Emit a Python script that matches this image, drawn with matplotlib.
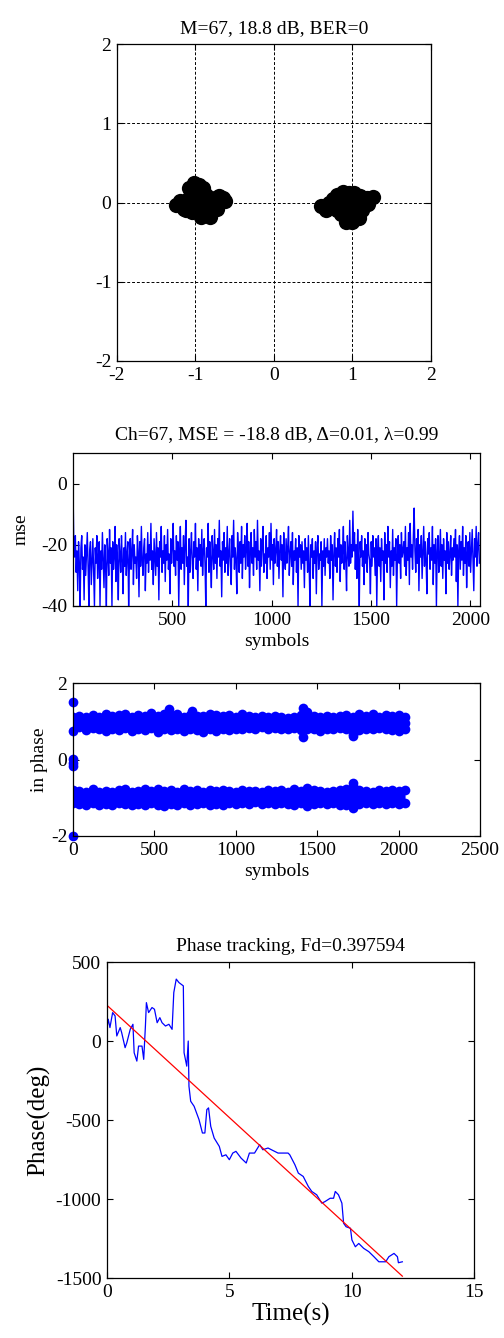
import numpy as np
import matplotlib
matplotlib.use("Agg")
import matplotlib.pyplot as plt

plt.rcParams['font.family'] = ['Liberation Serif', 'DejaVu Serif']
plt.rcParams['axes.unicode_minus'] = False

# ---------------- data ----------------
# constellation (I, Q) cluster points
const_i = [-1.25, -1.2, -1.15, -1.1, -1.08, -1.02, -0.95, -0.9, -0.98, -1.0, -0.95, -0.88,
           -0.82, -0.85, -0.9, -0.8, -0.75, -0.7, -0.65, -0.62, -0.72, -0.78, -1.12, -1.05,
           -0.93, -1.05, -0.92, -0.86,
           0.6, 0.66, 0.7, 0.75, 0.8, 0.88, 0.95, 1.02, 1.1, 1.18, 1.26, 1.2, 1.12, 1.08,
           1.0, 0.95, 0.85, 0.8, 0.9, 1.0, 1.05, 0.95, 1.15, 0.75, 1.0, 0.92]
const_q = [-0.03, 0.02, -0.08, 0.05, 0.18, 0.24, 0.22, 0.18, 0.1, -0.05, -0.12, -0.16,
           -0.18, -0.05, 0.05, 0.02, 0.06, 0.08, 0.06, 0.02, -0.08, -0.1, -0.1, -0.12,
           -0.18, 0.12, 0.0, 0.1,
           -0.04, -0.1, 0.0, 0.05, 0.1, 0.13, 0.12, 0.12, 0.08, 0.06, 0.07, -0.02, -0.1, -0.2,
           -0.24, -0.2, -0.15, -0.1, 0.0, 0.0, -0.08, -0.08, 0.0, -0.06, 0.1, -0.25]

# MSE (dB), one value every 4 symbols
mse_db = [
    0, -20, -24, -17, -29, -22, -35, -19, -26, -40, -21, -17, -28, -24, -38, -20,
    -30, -23, -16, -27, -40, -22, -19, -33, -25, -18, -29, -40, -21, -26, -17, -31,
    -24, -19, -40, -22, -28, -16, -25, -34, -20, -27, -40, -18, -23, -30, -15, -26,
    -21, -40, -19, -28, -24, -14, -32, -20, -26, -38, -18, -23, -29, -17, -25, -36,
    -21, -27, -16, -30, -23, -19, -40, -25, -18, -28, -22, -15, -33, -20, -26, -24,
    -31, -17, -22, -37, -19, -27, -14, -25, -30, -21, -18, -35, -23, -26, -16, -29,
    -20, -25, -13, -28, -22, -33, -18, -24, -30, -16, -27, -21, -38, -19, -24, -14,
    -29, -22, -26, -17, -32, -20, -25, -15, -28, -23, -36, -18, -26, -21, -13, -27,
    -22, -30, -17, -25, -19, -40, -23, -14, -28, -21, -26, -17, -33, -20, -12, -27,
    -24, -40, -18, -29, -22, -16, -26, -31, -19, -24, -13, -28, -21, -35, -18, -25,
    -20, -27, -15, -30, -22, -18, -26, -40, -21, -24, -13, -29, -19, -25, -34, -17,
    -23, -28, -15, -26, -20, -31, -18, -24, -12, -27, -22, -37, -19, -25, -16, -29,
    -21, -26, -14, -30, -23, -18, -27, -33, -17, -24, -12, -28, -21, -25, -36, -16,
    -22, -29, -19, -26, -14, -31, -20, -24, -17, -28, -22, -13, -27, -19, -34, -23,
    -16, -26, -21, -30, -15, -24, -19, -28, -12, -25, -22, -35, -18, -27, -20, -14,
    -29, -23, -26, -17, -31, -21, -24, -16, -28, -13, -25, -20, -33, -18, -26, -22,
    -15, -27, -19, -31, -22, -17, -25, -20, -37, -16, -24, -28, -18, -26, -21, -14,
    -30, -23, -19, -27, -16, -33, -22, -25, -18, -29, -21, -40, -17, -24, -20, -28,
    -19, -26, -22, -34, -18, -25, -21, -29, -17, -27, -40, -20, -24, -18, -31, -22,
    -26, -19, -36, -21, -17, -28, -23, -25, -19, -40, -22, -27, -18, -30, -21, -24,
    -18, -26, -22, -31, -17, -25, -20, -38, -23, -16, -27, -21, -29, -18, -24, -15,
    -32, -20, -26, -22, -14, -28, -19, -25, -35, -17, -23, -27, -12, -26, -20, -24,
    -9, -22, -16, -28, -20, -31, -15, -25, -40, -19, -24, -17, -27, -22, -33, -18,
    -26, -20, -29, -16, -23, -25, -36, -19, -27, -17, -24, -21, -30, -18, -40, -22,
    -17, -27, -21, -32, -18, -25, -22, -38, -16, -26, -20, -29, -14, -24, -19, -34,
    -22, -27, -15, -30, -21, -25, -18, -40, -23, -17, -26, -20, -31, -16, -24, -22,
    -19, -27, -14, -30, -21, -25, -16, -33, -13, -24, -20, -28, -17, -8, -22, -29,
    -18, -26, -15, -35, -20, -24, -17, -31, -22, -14, -27, -19, -25, -36, -18, -23,
    -16, -28, -21, -25, -14, -33, -20, -26, -18, -40, -22, -17, -29, -24, -15, -27,
    -20, -31, -18, -25, -22, -36, -16, -26, -19, -28, -23, -17, -30, -21, -25, -18,
    -24, -15, -32, -20, -40, -22, -17, -28, -19, -25, -14, -30, -21, -26, -17, -34,
    -23, -19, -27, -16, -29, -22, -15, -25, -35, -18, -24, -14, -27, -20, -16, -26]
mse_sym = np.arange(1, 1 + 4 * len(mse_db), 4)

# in-phase band envelopes, every 40 symbols
band_sym = np.arange(0, 2041, 40)
upper_hi = [1.12, 1.14, 1.1, 1.16, 1.12, 1.18, 1.14, 1.16, 1.2, 1.12, 1.17, 1.15, 1.22, 1.13,
            1.18, 1.16, 1.2, 1.12, 1.17, 1.15, 1.13, 1.18, 1.16, 1.13, 1.17, 1.12, 1.18, 1.15,
            1.12, 1.13, 1.1, 1.13, 1.12, 1.09, 1.12, 1.17, 1.25, 1.13, 1.12, 1.15, 1.1, 1.13,
            1.16, 1.12, 1.18, 1.13, 1.2, 1.12, 1.16, 1.13, 1.17, 1.12]
upper_lo = [0.8, 0.84, 0.77, 0.82, 0.79, 0.75, 0.81, 0.77, 0.83, 0.75, 0.8, 0.78, 0.82, 0.73,
            0.81, 0.77, 0.79, 0.75, 0.8, 0.77, 0.73, 0.79, 0.75, 0.81, 0.77, 0.8, 0.79, 0.83,
            0.81, 0.85, 0.8, 0.83, 0.81, 0.79, 0.83, 0.77, 0.8, 0.81, 0.75, 0.81, 0.79, 0.83,
            0.8, 0.68, 0.77, 0.81, 0.79, 0.83, 0.8, 0.77, 0.75, 0.79]
lower_hi = [-0.8, -0.83, -0.86, -0.78, -0.84, -0.82, -0.86, -0.8, -0.78, -0.84, -0.82, -0.78,
            -0.83, -0.76, -0.82, -0.8, -0.84, -0.78, -0.82, -0.8, -0.84, -0.81, -0.83, -0.8,
            -0.82, -0.84, -0.8, -0.83, -0.82, -0.84, -0.81, -0.83, -0.8, -0.84, -0.78, -0.82,
            -0.74, -0.8, -0.82, -0.84, -0.82, -0.8, -0.78, -0.68, -0.8, -0.82, -0.84, -0.8,
            -0.83, -0.8, -0.82, -0.8]
lower_lo = [-1.14, -1.17, -1.2, -1.14, -1.18, -1.16, -1.2, -1.14, -1.17, -1.2, -1.16, -1.18,
            -1.14, -1.2, -1.22, -1.17, -1.18, -1.14, -1.2, -1.16, -1.14, -1.18, -1.16, -1.2,
            -1.14, -1.17, -1.14, -1.16, -1.12, -1.16, -1.14, -1.17, -1.14, -1.16, -1.18, -1.14,
            -1.22, -1.17, -1.14, -1.16, -1.14, -1.18, -1.2, -1.26, -1.17, -1.14, -1.16, -1.14,
            -1.16, -1.14, -1.17, -1.14]
band_mid_up = [0.96, 0.98, 0.94, 1.0, 0.95, 0.97, 0.99, 0.95, 1.01, 0.94, 0.98, 0.96, 1.0, 0.93,
               0.99, 0.96, 1.0, 0.94, 0.98, 0.96, 0.93, 0.98, 0.95, 0.97, 0.96, 0.95, 0.99, 0.98,
               0.96, 0.99, 0.95, 0.98, 0.96, 0.94, 0.97, 0.97, 1.02, 0.97, 0.94, 0.98, 0.95, 0.98,
               0.98, 0.9, 0.97, 0.97, 0.99, 0.97, 0.98, 0.95, 0.96, 0.96]
outlier_sym = [0, 0, 0, 0, 0, 0, 590, 730, 1410, 1410, 1720, 1720]
outlier_val = [1.5, 0.75, 0.02, -0.08, -0.18, -2.0, 1.32, 1.28, 1.35, 0.6, 0.62, -0.62]

# phase tracking
track_t = [0.0, 0.01, 0.05, 0.12, 0.23, 0.33, 0.40, 0.54, 0.60, 0.74, 0.81, 0.95, 1.06, 1.11,
           1.22, 1.29, 1.43, 1.50, 1.57, 1.61, 1.70, 1.84, 1.94, 2.05, 2.16, 2.25, 2.39, 2.53,
           2.66, 2.73, 2.83, 2.94, 3.12, 3.15, 3.26, 3.32, 3.35, 3.42, 3.56, 3.76, 3.90, 4.00,
           4.08, 4.15, 4.24, 4.38, 4.59, 4.70, 4.86, 5.00, 5.14, 5.27, 5.48, 5.69, 5.82, 6.03,
           6.24, 6.37, 6.58, 6.99, 7.40, 7.47, 7.68, 7.82, 8.02, 8.23, 8.37, 8.57, 8.78, 8.91,
           9.12, 9.26, 9.33, 9.46, 9.60, 9.67, 9.77, 9.95, 10.01, 10.15, 10.29, 10.49, 10.70,
           10.91, 11.11, 11.39, 11.52, 11.73, 11.87, 11.91, 12.07]
track_ph = [80, 95, 138, 85, 180, 159, 32, 85, 53, -42, -11, 74, 106, -74,
            -127, -32, -32, -116, 95, 243, 180, 212, 201, 116, 148, 116, 95, 106,
            74, 307, 392, 370, 349, -74, -159, 0, -286, -381, -413, -497, -582, -582,
            -434, -423, -540, -614, -667, -730, -720, -751, -709, -698, -741, -772, -709, -709,
            -656, -688, -677, -709, -709, -720, -783, -836, -857, -921, -952, -973, -1026, -1016,
            -995, -995, -952, -973, -1026, -1153, -1175, -1185, -1259, -1302, -1281, -1312, -1333,
            -1365, -1397, -1397, -1365, -1344, -1365, -1403, -1397]
fit_t = [0.0, 12.07]
fit_ph = [226, -1488]

# ---------------- figure ----------------
fig = plt.figure(figsize=(5.04, 13.38), dpi=100)
FS = 14
blue = '#0000ff'


def style(ax):
    ax.tick_params(direction='in', top=True, right=True, labelsize=FS, length=4, width=0.8,
                   pad=4)
    for s in ax.spines.values():
        s.set_linewidth(0.9)


# constellation
ax1 = fig.add_axes([0.2321, 0.7302, 0.623, 0.2369])
ax1.plot(const_i, const_q, 'o', color='black', markersize=11, markeredgewidth=0)
ax1.set_xlim(-2, 2)
ax1.set_ylim(-2, 2)
ax1.set_xticks([-2, -1, 0, 1, 2])
ax1.set_yticks([-2, -1, 0, 1, 2])
ax1.grid(True, linestyle=(0, (3, 2)), color='black', linewidth=0.7)
ax1.set_axisbelow(True)
style(ax1)
ax1.set_title('M=67, 18.8 dB, BER=0', fontsize=FS, pad=8)

# MSE
ax2 = fig.add_axes([0.1448, 0.5471, 0.8075, 0.1143])
ax2.plot(mse_sym, mse_db, color=blue, linewidth=1.0)
ax2.set_xlim(1, 2048)
ax2.set_ylim(-40, 10)
ax2.set_xticks([500, 1000, 1500, 2000])
ax2.set_yticks([-40, -20, 0])
style(ax2)
ax2.set_xlabel('symbols', fontsize=FS, labelpad=3)
ax2.set_ylabel('mse', fontsize=FS, labelpad=8)
ax2.set_title('Ch=67, MSE = -18.8 dB, Δ=0.01, λ=0.99', fontsize=FS, pad=10)

# in phase
ax3 = fig.add_axes([0.1448, 0.3752, 0.8075, 0.1143])
ax3.fill_between(band_sym, upper_lo, upper_hi, color=blue, linewidth=0)
ax3.fill_between(band_sym, lower_lo, lower_hi, color=blue, linewidth=0)
for env in (upper_hi, upper_lo, lower_hi, lower_lo, band_mid_up):
    ax3.plot(band_sym, env, 'o', color=blue, markersize=7, markeredgewidth=0)
ax3.plot(outlier_sym, outlier_val, 'o', color=blue, markersize=7, markeredgewidth=0,
         clip_on=False)
ax3.set_xlim(0, 2500)
ax3.set_ylim(-2, 2)
ax3.set_xticks([0, 500, 1000, 1500, 2000, 2500])
ax3.set_yticks([-2, 0, 2])
style(ax3)
ax3.set_xlabel('symbols', fontsize=FS, labelpad=3)
ax3.set_ylabel('in phase', fontsize=FS, labelpad=2)

# phase tracking
ax4 = fig.add_axes([0.2123, 0.0448, 0.7282, 0.2362])
ax4.plot(track_t, track_ph, color=blue, linewidth=0.9)
ax4.plot(fit_t, fit_ph, color='red', linewidth=0.9)
ax4.set_xlim(0, 15)
ax4.set_ylim(-1500, 500)
ax4.set_xticks([0, 5, 10, 15])
ax4.set_yticks([-1500, -1000, -500, 0, 500])
style(ax4)
ax4.set_title('Phase tracking, Fd=0.397594', fontsize=FS, pad=8)
ax4.set_xlabel('Time(s)', fontsize=18, labelpad=2)
ax4.set_ylabel('Phase(deg)', fontsize=18, labelpad=4)

fig.savefig('out.png', dpi=100)
